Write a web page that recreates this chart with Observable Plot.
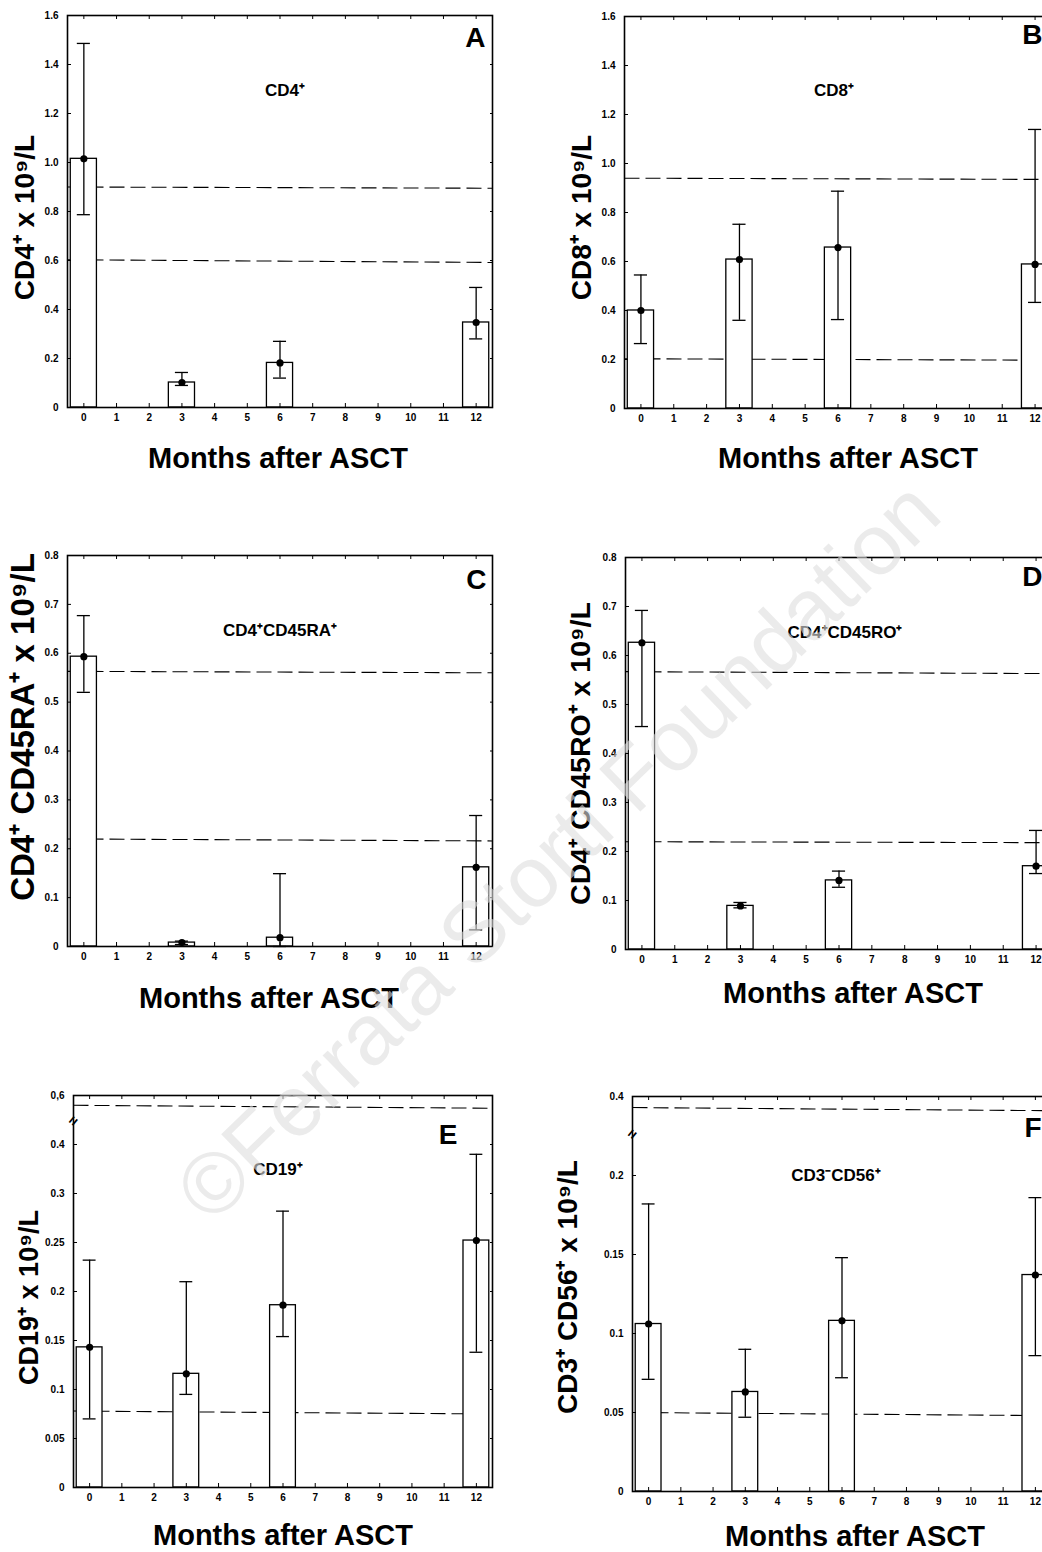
<!DOCTYPE html>
<html><head><meta charset="utf-8">
<script src="https://cdn.jsdelivr.net/npm/d3@7"></script>
<script src="https://cdn.jsdelivr.net/npm/@observablehq/plot@0.6"></script>
<style>
html,body{margin:0;padding:0;background:#fff;}
#root{position:relative;width:1042px;height:1552px;overflow:hidden;font-family:"Liberation Sans",Arial,sans-serif;}
.panel{position:absolute;}
.panel svg{max-width:none !important;}
#wm{position:absolute;left:0;top:0;white-space:nowrap;font-family:"Liberation Sans",Arial,sans-serif;font-size:86px;color:rgba(222,222,222,0.6);pointer-events:none;transform-origin:center center;}
</style></head><body><div id="root"></div>
<script>
// ---------- data ----------
const months = [0, 3, 6, 12];
const monthTicks = [0, 1, 2, 3, 4, 5, 6, 7, 8, 9, 10, 11, 12];

// A: CD4+
const cd4Mean = [1.015, 0.102, 0.182, 0.347];
const cd4Low  = [0.787, 0.090, 0.120, 0.280];
const cd4High = [1.486, 0.143, 0.270, 0.490];
const cd4Ref  = [[0.900, 0.895], [0.603, 0.592]];

// B: CD8+
const cd8Mean = [0.400, 0.608, 0.657, 0.588];
const cd8Low  = [0.265, 0.360, 0.363, 0.433];
const cd8High = [0.545, 0.752, 0.887, 1.139];
const cd8Ref  = [[0.940, 0.935], [0.203, 0.197]];

// C: CD4+CD45RA+
const raMean = [0.593, 0.008, 0.018, 0.162];
const raLow  = [0.520, 0.004, 0.000, 0.034];
const raHigh = [0.677, 0.011, 0.149, 0.268];
const raRef  = [[0.563, 0.560], [0.220, 0.216]];

// D: CD4+CD45RO+
const roMean = [0.626, 0.089, 0.141, 0.170];
const roLow  = [0.455, 0.085, 0.127, 0.155];
const roHigh = [0.692, 0.096, 0.160, 0.243];
const roRef  = [[0.567, 0.563], [0.220, 0.218]];

// E: CD19+ (axis has a break above 0.35)
const cd19Mean = [0.143, 0.116, 0.186, 0.252];
const cd19Low  = [0.070, 0.095, 0.154, 0.138];
const cd19High = [0.232, 0.210, 0.282, 0.340];
const cd19Ref  = [[0.390, 0.387], [0.078, 0.075]];

// F: CD3-CD56+ (axis has a break above 0.2)
const nkMean = [0.106, 0.063, 0.108, 0.137];
const nkLow  = [0.071, 0.047, 0.072, 0.086];
const nkHigh = [0.182, 0.090, 0.148, 0.186];
const nkRef  = [[0.243, 0.241], [0.050, 0.048]];

// tick positions and their printed labels
const ticks16 = [0, 0.2, 0.4, 0.6, 0.8, 1.0, 1.2, 1.4, 1.6];
const labels16 = ["0", "0.2", "0.4", "0.6", "0.8", "1.0", "1.2", "1.4", "1.6"];
const ticks08 = [0, 0.1, 0.2, 0.3, 0.4, 0.5, 0.6, 0.7, 0.8];
const labels08 = ["0", "0.1", "0.2", "0.3", "0.4", "0.5", "0.6", "0.7", "0.8"];
const ticksE = [0, 0.05, 0.1, 0.15, 0.2, 0.25, 0.3, 0.35, 0.4];
const labelsE = ["0", "0.05", "0.1", "0.15", "0.2", "0.25", "0.3", "0.4", "0,6"];
const ticksF = [0, 0.05, 0.1, 0.15, 0.2, 0.25];
const labelsF = ["0", "0.05", "0.1", "0.15", "0.2", "0.4"];

// ---------- layout / style ----------
const FONT = "'Liberation Sans', Arial, Helvetica, sans-serif";
const ML = 80, MR = 12, MT = 15, MB = 75;

const panels = [
  {letter: "A", inner: "CD4⁺", yTitle: "CD4⁺ x 10⁹/L",
   mean: cd4Mean, low: cd4Low, high: cd4High, refs: cd4Ref, domain: [0, 1.6], ticks: ticks16, labels: labels16,
   fx: 67, fy: 15, fw: 425, fh: 392, yt: {dx: -42, dy: 6, fs: 28}, xt: {dx: -2, dy: 51},
   inn: {dx: 5, dy: 75}, let: {dx: -7, dy: 23}},
  {letter: "B", inner: "CD8⁺", yTitle: "CD8⁺ x 10⁹/L",
   mean: cd8Mean, low: cd8Low, high: cd8High, refs: cd8Ref, domain: [0, 1.6], ticks: ticks16, labels: labels16,
   fx: 624, fy: 16, fw: 427, fh: 392, yt: {dx: -42, dy: 5, fs: 28}, xt: {dx: 10, dy: 50},
   inn: {dx: -4, dy: 74}, let: {dx: -9, dy: 19}},
  {letter: "C", inner: "CD4⁺CD45RA⁺", yTitle: "CD4⁺ CD45RA⁺ x 10⁹/L",
   mean: raMean, low: raLow, high: raHigh, refs: raRef, domain: [0, 0.8], ticks: ticks08, labels: labels08,
   fx: 67, fy: 555, fw: 425, fh: 391, yt: {dx: -44, dy: -24, fs: 33}, xt: {dx: -11, dy: 52},
   inn: {dx: 0, dy: 75}, let: {dx: -6, dy: 25}},
  {letter: "D", inner: "CD4⁺CD45RO⁺", yTitle: "CD4⁺ CD45RO⁺ x 10⁹/L",
   mean: roMean, low: roLow, high: roHigh, refs: roRef, domain: [0, 0.8], ticks: ticks08, labels: labels08,
   fx: 625, fy: 557, fw: 427, fh: 392, yt: {dx: -45, dy: 0, fs: 28.5}, xt: {dx: 14, dy: 44},
   inn: {dx: 6, dy: 75}, let: {dx: -10, dy: 20}},
  {letter: "E", inner: "CD19⁺", yTitle: "CD19⁺ x 10⁹/L", brk: 0.374,
   mean: cd19Mean, low: cd19Low, high: cd19High, refs: cd19Ref, domain: [0, 0.4], ticks: ticksE, labels: labelsE,
   fx: 73, fy: 1095, fw: 419, fh: 392, yt: {dx: -44, dy: 6, fs: 27}, xt: {dx: 0, dy: 48},
   inn: {dx: -5, dy: 74}, let: {dx: -35, dy: 40}},
  {letter: "F", inner: "CD3⁻CD56⁺", yTitle: "CD3⁺ CD56⁺ x 10⁹/L", brk: 0.226,
   mean: nkMean, low: nkLow, high: nkHigh, refs: nkRef, domain: [0, 0.25], ticks: ticksF, labels: labelsF,
   fx: 632, fy: 1096, fw: 419, fh: 395, yt: {dx: -64, dy: -7, fs: 28}, xt: {dx: 13, dy: 45},
   inn: {dx: -6, dy: 79}, let: {dx: -10, dy: 32}}
];

const root = document.getElementById("root");

for (const p of panels) {
  const rows = months.map((m, i) => ({m, mean: p.mean[i], lo: p.low[i], hi: p.high[i]}));
  const refs = p.refs.map(([a, b]) => ({a, b}));
  const labelOf = new Map(p.ticks.map((t, i) => [t, p.labels[i]]));
  const marks = [
    Plot.link(refs, {x1: () => -0.5, x2: () => 12.5, y1: "a", y2: "b", stroke: "black", strokeWidth: 1.1, strokeDasharray: "15,6"}),
    Plot.rect(rows, {x1: d => d.m - 0.4, x2: d => d.m + 0.4, y1: () => 0, y2: "mean", fill: "white", stroke: "black", strokeWidth: 1.3}),
    Plot.ruleX(rows, {x: "m", y1: "lo", y2: "hi", stroke: "black", strokeWidth: 1.3}),
    Plot.ruleY(rows, {y: "hi", x1: d => d.m - 0.2, x2: d => d.m + 0.2, stroke: "black", strokeWidth: 1.3}),
    Plot.ruleY(rows, {y: "lo", x1: d => d.m - 0.2, x2: d => d.m + 0.2, stroke: "black", strokeWidth: 1.3}),
    Plot.dot(rows, {x: "m", y: "mean", r: 3.6, fill: "black"}),
    Plot.frame({stroke: "black", strokeWidth: 1.6}),
    Plot.axisX(monthTicks, {tickSize: 0, tickPadding: 6, fontSize: 10, fontWeight: "bold", label: null}),
    Plot.axisY(p.ticks, {tickSize: 0, tickPadding: 9, fontSize: 10, fontWeight: "bold", label: null, tickFormat: d => labelOf.get(d)}),
    Plot.axisX(monthTicks, {tickSize: -4, tickFormat: () => "", label: null}),
    Plot.axisY(p.ticks, {tickSize: -4, tickFormat: () => "", label: null}),
    Plot.axisX(monthTicks, {anchor: "top", tickSize: -3, tickFormat: () => "", label: null}),
    Plot.axisY(p.ticks, {anchor: "right", tickSize: -3, tickFormat: () => "", label: null}),
    Plot.text([p.yTitle], {frameAnchor: "left", textAnchor: "middle", lineAnchor: "middle", dx: p.yt.dx, dy: p.yt.dy, rotate: -90, fontSize: p.yt.fs, fontWeight: "bold", fill: "black"}),
    Plot.text(["Months after ASCT"], {frameAnchor: "bottom", textAnchor: "middle", lineAnchor: "middle", dx: p.xt.dx, dy: p.xt.dy, fontSize: 29, fontWeight: "bold", fill: "black"}),
    Plot.text([p.inner], {frameAnchor: "top", textAnchor: "middle", lineAnchor: "middle", dx: p.inn.dx, dy: p.inn.dy, fontSize: 17, fontWeight: "bold", fill: "black"}),
    Plot.text([p.letter], {frameAnchor: "top-right", textAnchor: "end", lineAnchor: "middle", dx: p.let.dx, dy: p.let.dy, fontSize: 28, fontWeight: "bold", fill: "black"})
  ];
  if (p.brk != null) {
    marks.push(Plot.text(["="], {x: () => -0.5, y: () => p.brk, rotate: -50, fontSize: 15, fontWeight: "bold", fill: "black"}));
  }
  const W = p.fw + ML + MR, H = p.fh + MT + MB;
  const chart = Plot.plot({
    width: W, height: H,
    marginLeft: ML, marginRight: MR, marginTop: MT, marginBottom: MB,
    style: {fontFamily: FONT, background: "transparent", overflow: "visible", color: "black", maxWidth: "none"},
    x: {domain: [-0.5, 12.5]},
    y: {domain: p.domain},
    marks
  });
  chart.style.maxWidth = "none";
  chart.setAttribute("width", W);
  chart.setAttribute("height", H);
  const wrap = document.createElement("div");
  wrap.className = "panel";
  wrap.style.left = (p.fx - ML) + "px";
  wrap.style.top = (p.fy - MT) + "px";
  wrap.style.width = W + "px";
  wrap.style.height = H + "px";
  wrap.appendChild(chart);
  root.appendChild(wrap);
}

// watermark
const wm = document.createElement("div");
wm.id = "wm";
wm.textContent = "©Ferrata Storti Foundation";
root.appendChild(wm);
const r = wm.getBoundingClientRect();
wm.style.left = (558 - r.width / 2) + "px";
wm.style.top = (850 - r.height / 2) + "px";
wm.style.transform = "rotate(-44deg)";
</script>
</body></html>
